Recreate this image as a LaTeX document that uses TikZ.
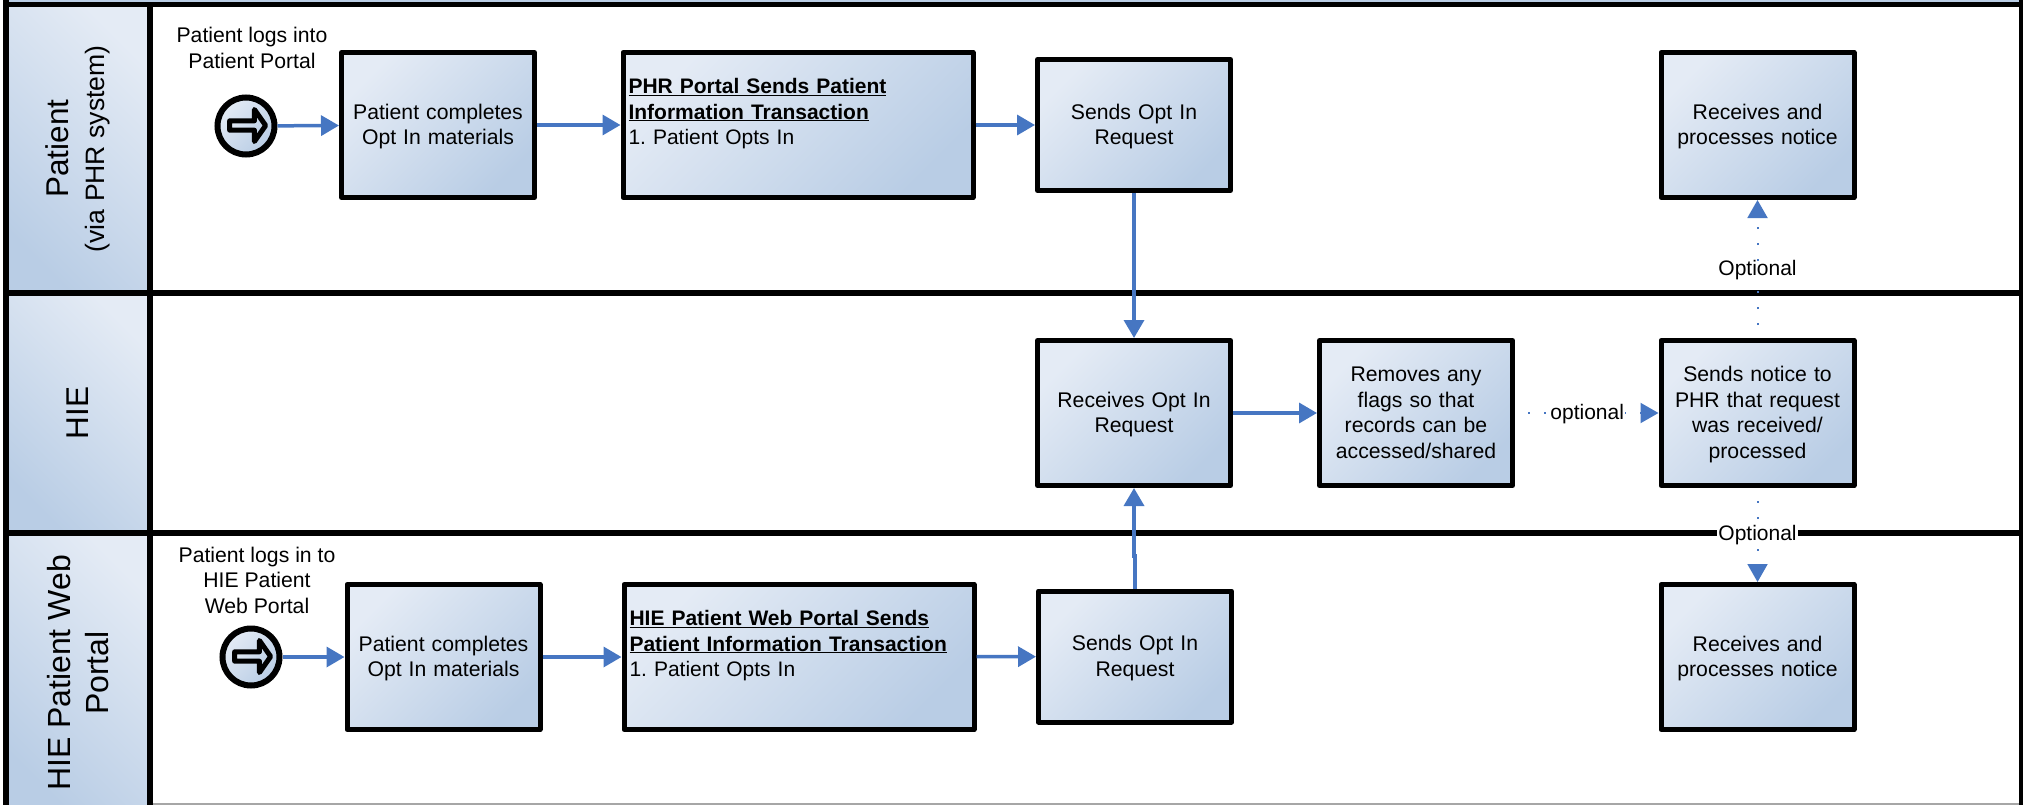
\documentclass[tikz,border=0pt]{standalone}
\usepackage{fontspec}
\setmainfont{Liberation Sans}
\usetikzlibrary{arrows.meta,shapes.arrows}
\definecolor{laneblue}{HTML}{B9CDE5}
\definecolor{lanelight}{HTML}{E4EBF5}
\definecolor{lanemid}{HTML}{C2D2E8}
\definecolor{flowblue}{HTML}{4676C2}
\begin{document}
\begin{tikzpicture}[x=1pt,y=-1pt,
  blue fade/.style={top color=lanelight,middle color=lanemid,bottom color=laneblue},
  step node/.style={draw,line width=5pt,line join=round,rectangle,blue fade,shading angle=45,inner sep=0pt,
    minimum width=193pt,minimum height=145pt,text width=188pt,align=center,font=\fontsize{21.2}{25.5}\selectfont\frenchspacing,
    execute at begin node={\rule{0pt}{21.3pt}},execute at end node={\strut}},
  wide node/.style={step node,minimum width=350pt,text width=339pt,align=left,
    font=\fontsize{21}{25.5}\selectfont\frenchspacing,execute at begin node={\rule{0pt}{19pt}}},
  short node/.style={step node,minimum height=131pt},
  lane node/.style={draw,line width=5.5pt,rectangle,rotate=90,blue fade,shading angle=-45,inner sep=0pt,
    minimum height=144pt,align=center},
  body node/.style={draw,line width=5.5pt,rectangle,minimum width=1871.5pt},
  event node/.style={draw,circle,line width=6pt,blue fade,shading angle=45,inner sep=0pt,minimum size=57pt},
  event arrow/.style={draw,single arrow,line width=5pt,line join=round,blue fade,shading angle=45,inner sep=0pt,
    minimum height=36pt,minimum width=32pt,single arrow head extend=6pt,single arrow head indent=0pt,
    single arrow tip angle=110},
  note node/.style={align=center,font=\fontsize{21.2}{25.5}\selectfont},
  flow line/.style={color=flowblue,line width=3.5pt,-{Triangle[length=18pt,width=20pt]}},
  opt line/.style={color=flowblue,line width=2pt,dash pattern=on 2pt off 14pt,dash phase=3pt,
    -{Triangle[length=18pt,width=20pt]}}]
  \useasboundingbox (0,0) rectangle (2023,805);
  \clip (0,0) rectangle (2023,805);

  % lanes
  \fill[laneblue] (9,0) rectangle (2019,3);
  \draw[line width=5.5pt] (6,0) -- (6,5);
  \draw[line width=5.5pt] (2021.5,0) -- (2021.5,5);
  \draw[gray!70,line width=1.5pt] (153,804.2) -- (2019,804.2);
  \node[lane node,minimum width=288.5pt,font=\fontsize{31.5}{36}\selectfont] (lane1) at (78,148.75)
    {Patient\\{\fontsize{26.6}{36}\selectfont (via PHR system)}};
  \node[lane node,minimum width=240pt,font=\fontsize{31.5}{38}\selectfont] (lane2) at (78,413) {HIE};
  \node[lane node,minimum width=280pt,font=\fontsize{32}{38}\selectfont] (lane3) at (78,673)
    {HIE Patient Web\\Portal};
  \node[body node,minimum height=288.5pt] (body1) at (1085.75,148.75) {};
  \node[body node,minimum height=240pt] (body2) at (1085.75,413) {};
  \node[body node,minimum height=280pt] (body3) at (1085.75,673) {};

  % patient row
  \node[event node] (p0) at (246,126) {};
  \node[event arrow] (p0a) at (246,125.5) {};
  \node[note node] (p0t) at (252,48) {Patient logs into\\Patient Portal};
  \node[step node] (p1) at (438,125) {Patient completes\\Opt In materials};
  \node[wide node] (p2) at (798,125) {\smash{\textbf{\underline{PHR Portal Sends Patient}}}\\\smash{\textbf{\underline{Information Transaction}}}\\1. Patient Opts In\\~};
  \node[short node] (p3) at (1134,125) {Sends Opt In\\Request};
  \node[step node] (p4) at (1757.5,125) {Receives and\\processes notice};

  % hie row
  \node[step node] (h1) at (1134,413) {Receives Opt In\\Request};
  \node[step node] (h2) at (1416,413) {Removes any\\flags so that\\records can be\\accessed/shared};
  \node[step node] (h3) at (1757.5,413) {Sends notice to\\PHR that request\\was received/\\processed};

  % web portal row
  \node[event node] (w0) at (251,657) {};
  \node[event arrow] (w0a) at (251,656.5) {};
  \node[note node] (w0t) at (257,580) {Patient logs in to\\HIE Patient\\Web Portal};
  \node[step node] (w1) at (443.5,657) {Patient completes\\Opt In materials};
  \node[wide node] (w2) at (799,657) {\smash{\textbf{\underline{HIE Patient Web Portal Sends}}}\\\smash{\textbf{\underline{Patient Information Transaction}}}\\1. Patient Opts In\\~};
  \node[short node] (w3) at (1135,656.5) {Sends Opt In\\Request};
  \node[step node] (w4) at (1757.5,657) {Receives and\\processes notice};
  \coordinate (jog) at (1134.5,556);

  \path[flow line]
    (p0) edge (p1)
    (p1) edge (p2)
    (p2) edge (p3)
    (p3) edge (h1)
    (h1) edge (h2)
    (w0) edge (w1)
    (w1) edge (w2)
    (w2) edge (w3);
  \draw[flow line] (w3.north) |- (jog) -| (h1.south);

  \path[opt line,every node/.style={fill=white,text=black,inner xsep=1pt,inner ysep=0pt,yshift=-1.5pt,font=\fontsize{21}{25.5}\selectfont}]
    (h2) edge node [pos=.503] {optional} (h3)
    (h3) edge node [pos=.5] {Optional} (p4)
    (h3) edge node [pos=.49] {Optional} (w4);
\end{tikzpicture}
\end{document}
